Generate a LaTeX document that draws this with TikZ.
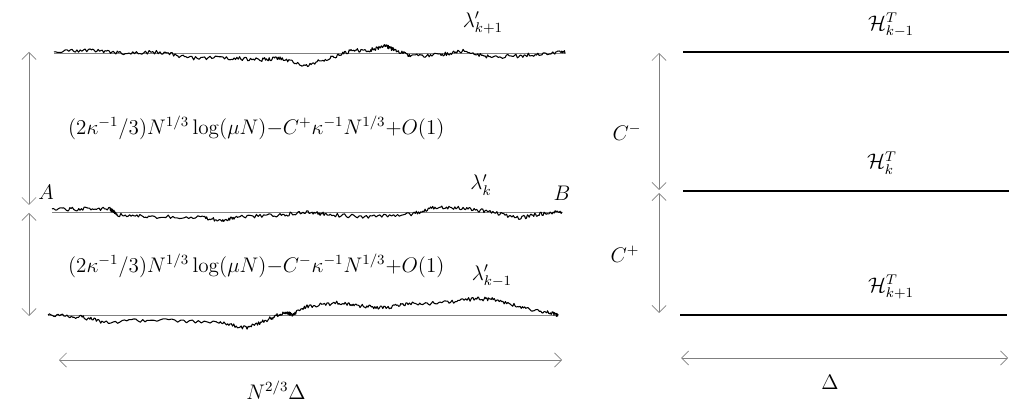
\documentclass[tikz,border=0pt]{standalone}
\usepackage{amssymb}
\usepackage{amsmath}
\usetikzlibrary{arrows.meta}

\begin{document}
\begin{tikzpicture}[font=\large,
	dim/.style={gray, {Straight Barb[length=4pt,width=8pt]}-{Straight Barb[length=4pt,width=8pt]}},
	walk/.style={semithick, line join=round},
	base/.style={gray, thin},
	level/.style={line width=1pt}]
	\useasboundingbox (0,0) rectangle (20.32,8.08);
	\pgfmathsetseed{11}

	% left panel: the three rough curves (px units)
	\begin{scope}[x=0.02cm,y=0.02cm]
	\draw[base] (54,351) -- (565,351);
	\draw[base] (52,192) -- (562,192);
	\draw[base] (48,89) -- (558,89);
	\draw[walk] (54,352) \foreach \xb/\yb [remember=\xb as \xa (initially 54), remember=\yb as \ya (initially 1)] in {90/3, 120/0, 160/1, 190/-5, 230/-5, 260/-7, 280/-5, 304/-13, 330/-5, 350/2, 370/3, 385/7, 395/3, 410/-3, 440/-2, 463/2, 490/-4, 520/-3, 550/0, 565/1} {
		\foreach \j in {1,...,22} { -- ({\xa+(\xb-\xa)*\j/22}, {351+\ya+(\yb-\ya)*\j/22+1.9*rand}) }
	};
	\draw[walk] (52,195) \foreach \xb/\yb [remember=\xb as \xa (initially 52), remember=\yb as \ya (initially 3)] in {80/3, 110/3, 118/-3, 150/-5, 200/-5, 221/-9, 240/-5, 280/-3, 308/0, 330/-3, 370/-5, 413/-2, 437/5, 463/4, 490/0, 520/-6, 540/-2, 562/0} {
		\foreach \j in {1,...,22} { -- ({\xa+(\xb-\xa)*\j/22}, {192+\ya+(\yb-\ya)*\j/22+1.9*rand}) }
	};
	\draw[walk] (48,89) \foreach \xb/\yb [remember=\xb as \xa (initially 48), remember=\yb as \ya (initially 0)] in {80/-2, 104/-7, 154/-5, 219/-7, 246/-13, 269/-4, 285/3, 292/0, 308/9, 338/12, 360/9, 385/7, 408/11, 440/12, 473/16, 493/16, 520/8, 545/3, 558/0} {
		\foreach \j in {1,...,22} { -- ({\xa+(\xb-\xa)*\j/22}, {89+\ya+(\yb-\ya)*\j/22+1.9*rand}) }
	};
	\end{scope}

	\node (lamtop) at (9.66,7.62) {$\lambda'_{k+1}$};
	\node (lammid) at (9.62,4.38) {$\lambda'_{k}$};
	\node (lambot) at (9.84,2.56) {$\lambda'_{k-1}$};
	\node (ptA) at (0.92,4.24) {$A$};
	\node (ptB) at (11.24,4.22) {$B$};
	\node[anchor=west] (gapplus) at (1.24,5.52) {$(2\kappa^{-1}/3)N^{1/3}\log(\mu N){-}C^{+}\kappa^{-1}N^{1/3}{+}O(1)$};
	\node[anchor=west] (gapminus) at (1.24,2.76) {$(2\kappa^{-1}/3)N^{1/3}\log(\mu N){-}C^{-}\kappa^{-1}N^{1/3}{+}O(1)$};
	\node (wdth) at (5.52,0.28) {$N^{2/3}\Delta$};

	\coordinate (l1) at (0.58,7.04);
	\coordinate (l2) at (0.58,3.98);
	\coordinate (l3) at (0.58,3.82);
	\coordinate (l4) at (0.58,1.76);
	\coordinate (l5) at (1.18,0.88);
	\coordinate (l6) at (11.24,0.88);
	\draw[dim] (l1) -- (l2);
	\draw[dim] (l3) -- (l4);
	\draw[dim] (l5) -- (l6);

	% right panel: the flat lines
	\coordinate (h1) at (13.66,7.04);
	\coordinate (h2) at (20.18,7.04);
	\coordinate (h3) at (13.66,4.26);
	\coordinate (h4) at (20.18,4.26);
	\coordinate (h5) at (13.60,1.78);
	\coordinate (h6) at (20.14,1.78);
	\draw[level] (h1) -- (h2);
	\draw[level] (h3) -- (h4);
	\draw[level] (h5) -- (h6);

	\node (htop) at (17.82,7.58) {$\mathcal{H}^T_{k-1}$};
	\node (hmid) at (17.64,4.82) {$\mathcal{H}^T_{k}$};
	\node (hbot) at (17.82,2.34) {$\mathcal{H}^T_{k+1}$};
	\node (cminus) at (12.54,5.44) {$C^{-}$};
	\node (cplus) at (12.50,3.00) {$C^{+}$};
	\node (delta) at (16.60,0.44) {$\Delta$};

	\coordinate (r1) at (13.18,7.02);
	\coordinate (r2) at (13.18,4.28);
	\coordinate (r3) at (13.18,4.22);
	\coordinate (r4) at (13.18,1.82);
	\coordinate (r5) at (13.62,0.92);
	\coordinate (r6) at (20.16,0.92);
	\draw[dim] (r1) -- (r2);
	\draw[dim] (r3) -- (r4);
	\draw[dim] (r5) -- (r6);

\end{tikzpicture}
\end{document}
